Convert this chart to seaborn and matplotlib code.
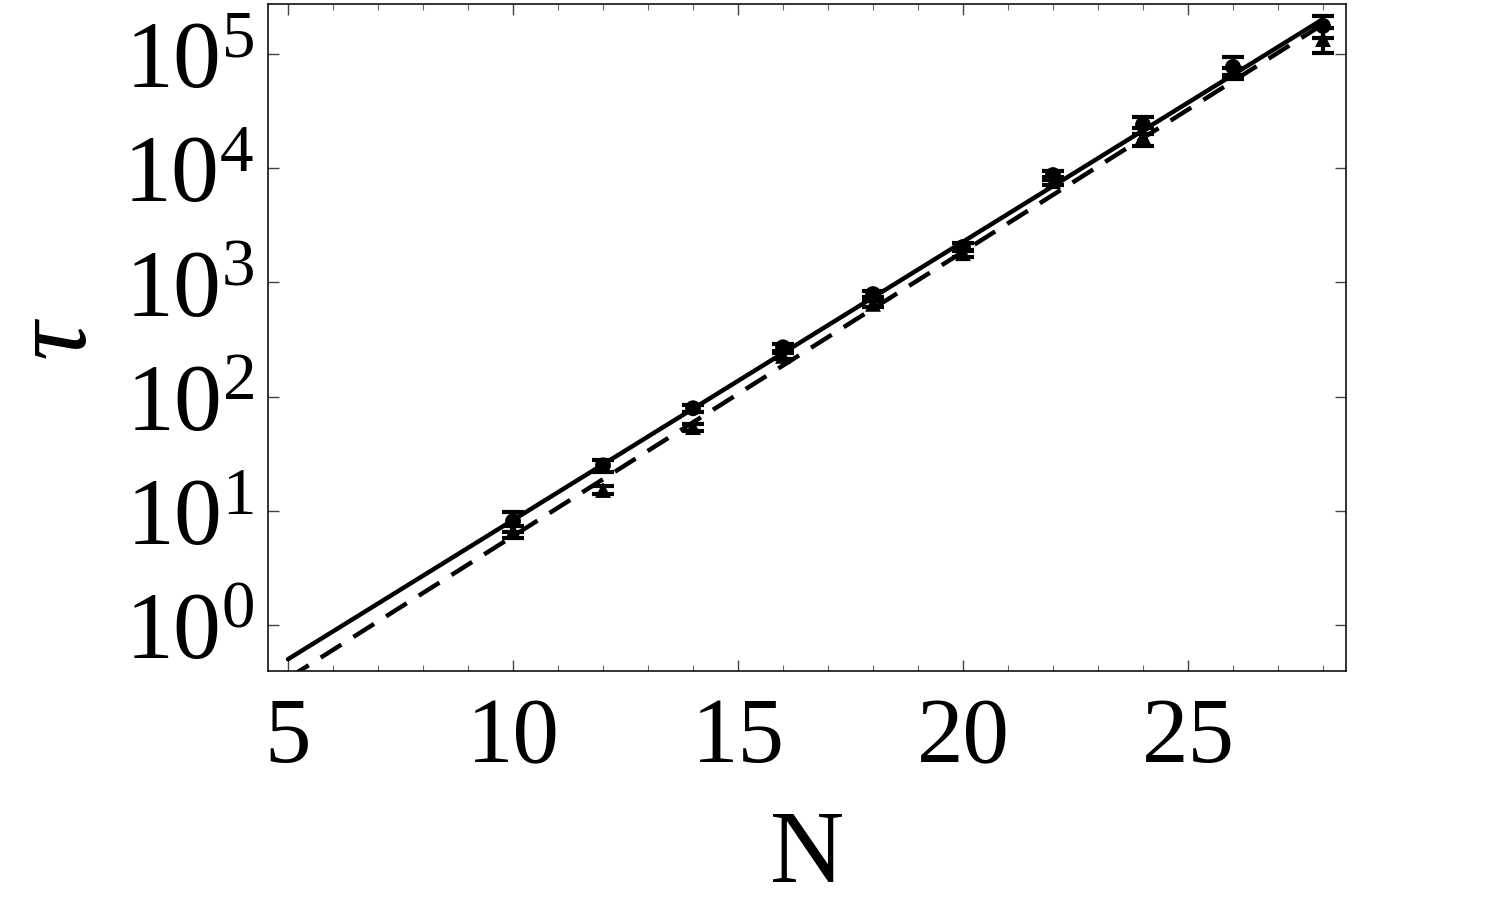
import numpy as np
import pandas as pd
import matplotlib
matplotlib.use("Agg")
import matplotlib.pyplot as plt
import matplotlib.ticker as mticker
import seaborn as sns

# ---- data ----
N_vals = [10, 12, 14, 16, 18, 20, 22, 24, 26, 28]
tau_circle = [8.1, 25, 79, 270, 790, 2040, 8700, 24000, 77000, 176000]
err_circle = [1.6, 3, 6, 20, 50, 150, 800, 4000, 17000, 37000]
tau_triangle = [6.6, 15.2, 54, 227, 648, 1800, 7700, 19000, 71000, 135000]
err_triangle = [0.8, 1.2, 4, 15, 40, 120, 600, 3400, 5000, 33000]

# exponential fits: log10(tau) = a + b*N
fit_solid = (-1.5185, 0.2437)
fit_dashed = (-1.712, 0.249)
fit_N_range = [5, 28]

x_ticks = [5, 10, 15, 20, 25]
y_exponents = [0, 1, 2, 3, 4, 5]

sns.set_theme(style="ticks")
plt.rcParams["font.family"] = ["Liberation Serif", "DejaVu Serif"]
plt.rcParams["mathtext.fontset"] = "custom"
plt.rcParams["mathtext.rm"] = "Liberation Serif"
plt.rcParams["mathtext.it"] = "Liberation Serif:italic"
plt.rcParams["text.color"] = "black"
plt.rcParams["axes.labelcolor"] = "black"
plt.rcParams["xtick.color"] = "black"
plt.rcParams["ytick.color"] = "black"

fig = plt.figure(figsize=(15, 9.03), dpi=100)
ax = fig.add_axes([0.1787, 0.2558, 0.8973 - 0.1787, 0.9945 - 0.2558])

# fit lines
def fit_frame(p):
    Ns = np.array(fit_N_range, dtype=float)
    return pd.DataFrame({"N": Ns, "tau": 10 ** (p[0] + p[1] * Ns)})

sns.lineplot(data=fit_frame(fit_solid), x="N", y="tau", ax=ax, color="black",
             linewidth=3.2, zorder=2)
sns.lineplot(data=fit_frame(fit_dashed), x="N", y="tau", ax=ax, color="black",
             linewidth=3.2, linestyle=(0, (5.5, 3.2)), zorder=2)

# error bars
ax.errorbar(N_vals, tau_circle, yerr=err_circle, fmt="none", ecolor="black",
            elinewidth=3, capsize=8, capthick=3, zorder=3)
ax.errorbar(N_vals, tau_triangle, yerr=err_triangle, fmt="none", ecolor="black",
            elinewidth=3, capsize=8, capthick=3, zorder=3)

df = pd.DataFrame({
    "N": N_vals * 2,
    "tau": tau_circle + tau_triangle,
    "kind": ["circle"] * len(N_vals) + ["triangle"] * len(N_vals),
})
sns.scatterplot(data=df, x="N", y="tau", style="kind",
                markers={"circle": "o", "triangle": "^"},
                color="black", s=130, edgecolor="black", linewidth=0,
                ax=ax, legend=False, zorder=4)

ax.set_yscale("log")
ax.set_xlim(4.556, 28.51)
ax.set_ylim(0.395, 2.74e5)

ax.xaxis.set_major_locator(mticker.FixedLocator(x_ticks))
ax.xaxis.set_minor_locator(mticker.MultipleLocator(1))
ax.yaxis.set_major_locator(mticker.FixedLocator([10.0 ** e for e in y_exponents]))
ax.yaxis.set_major_formatter(mticker.FixedFormatter(
    [r"$\mathregular{10^{%d}}$" % e for e in y_exponents]))
ax.yaxis.set_minor_locator(mticker.NullLocator())

ax.tick_params(axis="both", which="major", direction="in", length=8, width=1,
               color="#444444", labelcolor="black", top=True, right=True,
               labelsize=69, pad=10)
ax.tick_params(axis="both", which="minor", direction="in", length=4, width=0.8,
               color="#666666", top=True, right=True)
ax.tick_params(axis="x", which="major", labelsize=67, pad=18)

for s in ax.spines.values():
    s.set_linewidth(1.2)
    s.set_color("#111111")

ax.set_xlabel("N", fontsize=74, labelpad=20, color="black")
ax.set_ylabel(r"$\tau$", fontsize=78, labelpad=10, color="black")

fig.savefig("out.png", dpi=100, facecolor="white")
